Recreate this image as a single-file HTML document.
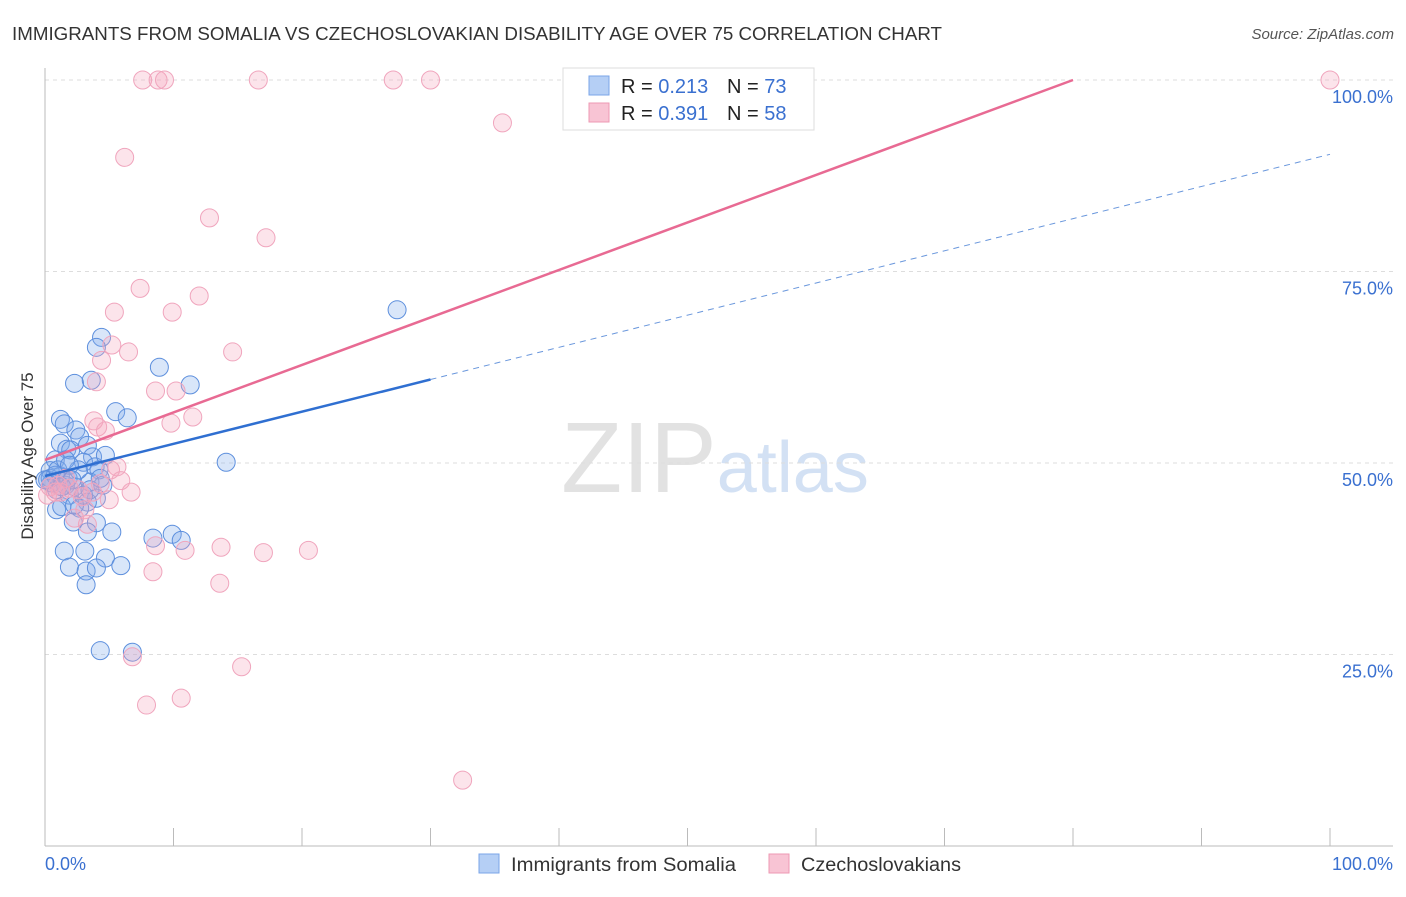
<!DOCTYPE html>
<html><head><meta charset="utf-8"><style>
body{margin:0;background:#fff;font-family:"Liberation Sans",sans-serif}
svg text{font-family:"Liberation Sans",sans-serif}
</style></head><body>
<svg id="c" width="1406" height="892">
<text x="12" y="40" font-size="18" fill="#333" textLength="930" lengthAdjust="spacingAndGlyphs">IMMIGRANTS FROM SOMALIA VS CZECHOSLOVAKIAN DISABILITY AGE OVER 75 CORRELATION CHART</text>
<text x="1394" y="39" font-size="15" fill="#555" font-style="italic" text-anchor="end">Source: ZipAtlas.com</text>
<text x="715" y="492" font-size="100" fill="#e2e2e2" text-anchor="middle" font-family="Liberation Serif">ZIP<tspan fill="#d3e1f4" font-family="Liberation Sans" font-size="72">atlas</tspan></text>
<g id="grid"></g><g id="marks"></g>
<text transform="translate(33,456) rotate(-90)" font-size="17" fill="#333" text-anchor="middle">Disability Age Over 75</text>
<text x="45" y="870" font-size="18" fill="#3a70d0">0.0%</text>
<text x="1393" y="870" font-size="18" fill="#3a70d0" text-anchor="end">100.0%</text>
<g>
<rect x="563" y="68" width="251" height="62" fill="#fff" stroke="#ddd"/>
<rect x="589" y="76" width="20" height="19" fill="#b5cff5" stroke="#7aa4e8"/>
<rect x="589" y="103" width="20" height="19" fill="#f8c4d4" stroke="#ee99b3"/>
<text x="621" y="93" font-size="20" fill="#222">R = <tspan fill="#3a70d0">0.213</tspan><tspan x="727">N = </tspan><tspan fill="#3a70d0">73</tspan></text>
<text x="621" y="120" font-size="20" fill="#222">R = <tspan fill="#3a70d0">0.391</tspan><tspan x="727">N = </tspan><tspan fill="#3a70d0">58</tspan></text>
</g>
<g>
<rect x="479" y="854" width="20" height="19" fill="#b5cff5" stroke="#7aa4e8"/>
<text x="511" y="871" font-size="19" fill="#333" textLength="225" lengthAdjust="spacingAndGlyphs">Immigrants from Somalia</text>
<rect x="769" y="854" width="20" height="19" fill="#f8c4d4" stroke="#ee99b3"/>
<text x="801" y="871" font-size="19" fill="#333" textLength="160" lengthAdjust="spacingAndGlyphs">Czechoslovakians</text>
</g>
</svg>
<script>
const yTicks=[25,50,75,100];
const yTickLabels=["25.0%","50.0%","75.0%","100.0%"];
const xTicks=[0,10,20,30,40,50,60,70,80,90,100];
const blueX=[4.4,4.0,8.9,2.3,3.6,11.3,5.5,6.4,1.2,1.5,2.4,2.7,1.2,3.3,1.7,2.0,3.7,0.8,3.0,3.9,4.2,0.4,1.2,0.2,0.5,1.6,2.3,3.5,4.5,0.9,1.9,4.0,3.3,2.7,0.9,1.3,2.2,4.0,5.2,3.3,8.4,9.9,10.6,1.5,3.1,4.7,1.9,3.2,4.0,5.9,3.2,4.3,6.8,14.1,27.4,0.4,0.8,0.0,1.0,1.8,2.6,3.0,3.5,2.3,4.3,1.6,1.9,4.7,1.3,2.1];
const blueY=[66.4,65.1,62.5,60.4,60.8,60.2,56.7,55.9,55.7,55.1,54.3,53.4,52.6,52.3,51.8,51.7,50.8,50.4,50.1,49.5,49.1,49.0,48.3,47.8,47.4,47.1,46.9,47.5,47.1,46.5,45.8,45.4,44.9,44.1,43.9,44.3,42.3,42.2,41.0,41.0,40.2,40.7,39.9,38.5,38.5,37.6,36.4,35.9,36.3,36.6,34.1,25.5,25.3,50.1,70.0,48.0,48.4,47.8,49.1,48.0,49.1,45.8,46.5,44.5,48.0,50.4,49.7,51.0,46.9,47.8];
const pinkX=[7.6,8.8,9.3,16.6,27.1,30.0,100,35.6,6.2,12.8,17.2,7.4,12.0,5.4,9.9,5.2,6.5,14.6,4.4,4.0,8.6,10.2,11.5,3.8,4.1,9.8,4.7,5.6,5.9,6.7,5.0,2.6,2.9,3.7,1.2,0.4,0.8,1.6,2.3,3.3,8.6,10.9,13.7,17.0,20.5,8.4,13.6,6.8,15.3,7.9,10.6,32.5,3.1,1.9,0.2,4.3,5.1,1.0];
const pinkY=[100,100,100,100,100,100,100,94.4,89.9,82.0,79.4,72.8,71.8,69.7,69.7,65.4,64.5,64.5,63.4,60.6,59.4,59.4,56.0,55.5,54.7,55.2,54.2,49.5,47.7,46.2,45.2,46.5,45.6,46.2,46.2,46.9,46.2,48.0,42.8,42.0,39.2,38.6,39.0,38.3,38.6,35.8,34.3,24.7,23.4,18.4,19.3,8.6,43.9,46.7,45.8,47.3,49.1,47.1];
const blueTrend=[48.3,0.42];
const pinkTrend=[50.4,0.62];
const NS="http://www.w3.org/2000/svg";
const sx=v=>45+v*12.85, sy=v=>846-v*7.66;
function mk(t,a,p){const e=document.createElementNS(NS,t);for(const k in a)e.setAttribute(k,a[k]);p.appendChild(e);return e;}
const g=document.getElementById('grid'),m=document.getElementById('marks');
yTicks.forEach((t,i)=>{
 const l=mk('line',{x1:45,x2:1393,y1:sy(t),y2:sy(t),stroke:'#ddd','stroke-dasharray':'4,4'},g);
 
 
 const tx=mk('text',{x:1393,y:sy(t)+23,'font-size':18,fill:'#3a70d0','text-anchor':'end'},g);
 tx.textContent=yTickLabels[i];
 
 
});
const ax=mk('line',{x1:45,x2:45,y1:68,y2:846,stroke:'#bbb'},g);


const bx=mk('line',{x1:45,x2:1393,y1:846,y2:846,stroke:'#bbb'},g);


xTicks.forEach(t=>{
 const l=mk('line',{x1:sx(t),x2:sx(t),y1:828,y2:846,stroke:'#bbb'},g);
 
 
});
blueX.forEach((x,i)=>{
 const c=mk('circle',{cx:sx(x),cy:sy(blueY[i]),r:9,fill:'rgba(130,172,235,0.3)',stroke:'#5d8fdd','stroke-width':1},m);
 
 
});
pinkX.forEach((x,i)=>{
 const c=mk('circle',{cx:sx(x),cy:sy(pinkY[i]),r:9,fill:'rgba(245,165,190,0.3)',stroke:'#f0a5bd','stroke-width':1},m);
 
 
});
const b1=mk('line',{x1:sx(0),y1:sy(blueTrend[0]),x2:sx(30),y2:sy(blueTrend[0]+blueTrend[1]*30),stroke:'#2f6fd1','stroke-width':2.5},m);


const b2=mk('line',{x1:sx(30),y1:sy(blueTrend[0]+blueTrend[1]*30),x2:sx(100),y2:sy(blueTrend[0]+blueTrend[1]*100),stroke:'#6a97dc','stroke-width':1,'stroke-dasharray':'6,5'},m);


const xe=(100-pinkTrend[0])/pinkTrend[1];
const p1=mk('line',{x1:sx(0),y1:sy(pinkTrend[0]),x2:sx(xe),y2:sy(100),stroke:'#e86a93','stroke-width':2.5},m);


</script>
</body></html>
